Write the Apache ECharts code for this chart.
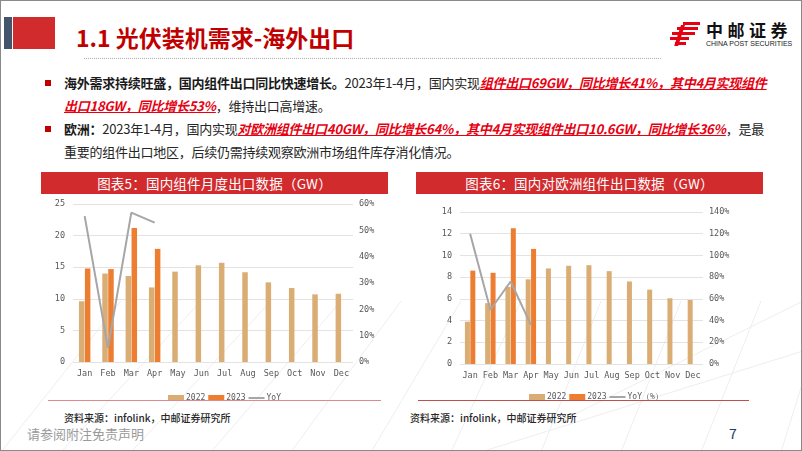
<!DOCTYPE html>
<html><head><meta charset="utf-8">
<script src="https://cdn.jsdelivr.net/npm/echarts@6/dist/echarts.min.js"></script>
<style>
html,body{margin:0;padding:0;background:#fff;}
#slide{position:relative;width:802px;height:451px;overflow:hidden;background:#fff;box-sizing:border-box;border:1px solid #8a8a8a;font-family:"Noto Sans CJK SC","Noto Sans",sans-serif;}
.abs{position:absolute;}
.line{position:absolute;left:63px;white-space:nowrap;font-size:13px;letter-spacing:-0.25px;line-height:18px;color:#262626;}
.line b{font-weight:700;color:#1a1a1a;}
.hl{color:#E60012;font-weight:700;font-style:italic;text-decoration:underline;text-decoration-color:#E60012;}
.bullet{position:absolute;left:44px;width:6px;height:6px;background:#C00000;}
.tbar{position:absolute;height:22px;background:#D12B2E;color:#fff;font-size:13.5px;line-height:22px;text-align:center;letter-spacing:0.2px;}
.src{position:absolute;font-size:10px;color:#262626;font-weight:500;white-space:nowrap;}
</style></head>
<body><div id="slide">
<svg class="abs" style="left:0;top:0" width="802" height="451">
  <g stroke="#eeeeee" stroke-width="1" fill="none">
    <line x1="0" y1="451" x2="120" y2="300"/>
    <line x1="60" y1="451" x2="200" y2="300"/>
    <line x1="130" y1="451" x2="270" y2="300"/>
    <line x1="210" y1="451" x2="340" y2="300"/>
    <line x1="290" y1="451" x2="400" y2="300"/>
    <line x1="370" y1="451" x2="460" y2="300"/>
    <line x1="450" y1="451" x2="520" y2="300"/>
    <line x1="540" y1="451" x2="600" y2="300"/>
    <line x1="620" y1="451" x2="680" y2="300"/>
    <line x1="700" y1="451" x2="760" y2="300"/>
    <line x1="780" y1="451" x2="802" y2="380"/>
    <line x1="560" y1="420" x2="802" y2="300"/>
    <line x1="480" y1="451" x2="802" y2="350"/>
  </g>
</svg>
<div class="abs" style="left:3px;top:16px;width:8px;height:32px;background:#44546A;"></div>
<div class="abs" style="left:12px;top:16px;width:42px;height:32px;background:#D12B2E;"></div>
<div class="abs" style="left:75px;top:21px;font-size:23px;font-weight:700;color:#C00000;white-space:nowrap;line-height:30px;">1.1 光伏装机需求-海外出口</div>
<div class="abs" style="left:83px;top:57px;width:577px;height:0;border-top:1px dotted #b0b0b0;"></div>
<svg class="abs" style="left:669px;top:21px" width="32" height="24">
  <g fill="#E60012">
    <rect x="13" y="0" width="17" height="3"/>
    <rect x="7" y="5" width="21" height="3"/>
    <rect x="2" y="10" width="23" height="3"/>
    <rect x="0" y="15" width="19" height="3"/>
    <rect x="12" y="3" width="4" height="21" transform="skewX(-18)"/>
    <rect x="5" y="20" width="11" height="3"/>
  </g>
</svg>
<div class="abs" style="left:705px;top:19px;font-size:17px;font-weight:700;color:#111;letter-spacing:4.5px;line-height:20px;white-space:nowrap;">中邮证券</div>
<div class="abs" style="left:705px;top:38px;font-size:7px;color:#222;line-height:9px;white-space:nowrap;font-family:'Liberation Sans',sans-serif;">CHINA POST SECURITIES</div>

<div class="bullet" style="top:79px"></div>
<div class="line" style="top:73px"><b>海外需求持续旺盛，国内组件出口同比快速增长。</b>2023年1-4月，国内实现<span class="hl">组件出口69GW，同比增长41%，其中4月实现组件</span></div>
<div class="line" style="top:96px"><span class="hl">出口18GW，同比增长53%</span>，维持出口高增速。</div>
<div class="bullet" style="top:125px"></div>
<div class="line" style="top:119px"><b>欧洲：</b>2023年1-4月，国内实现<span class="hl">对欧洲组件出口40GW，同比增长64%，其中4月实现组件出口10.6GW，同比增长36%</span>，是最</div>
<div class="line" style="top:142px">重要的组件出口地区，后续仍需持续观察欧洲市场组件库存消化情况。</div>

<div class="tbar" style="left:40px;top:171px;width:347px;">图表5：国内组件月度出口数据（GW）</div>
<div class="tbar" style="left:415px;top:171px;width:347px;">图表6：国内对欧洲组件出口数据（GW）</div>

<div id="c1" class="abs" style="left:40px;top:195px;width:347px;height:210px;"></div>
<div id="c2" class="abs" style="left:415px;top:195px;width:347px;height:210px;"></div>
<div class="abs" style="left:47px;top:399px;width:333px;height:1px;background:#DC8A8C;"></div>
<div class="abs" style="left:417px;top:399px;width:331px;height:1px;background:#C0504D;"></div>

<div class="src" style="left:63px;top:409px;">资料来源：infolink，中邮证券研究所</div>
<div class="src" style="left:409px;top:409px;">资料来源：infolink，中邮证券研究所</div>
<div class="abs" style="left:26px;top:424px;font-size:13px;color:#9a9a9a;white-space:nowrap;line-height:18px;">请参阅附注免责声明</div>
<div class="abs" style="left:728px;top:423px;font-size:14px;color:#1F3864;line-height:18px;">7</div>
</div>
<script>
const months = ['Jan','Feb','Mar','Apr','May','Jun','Jul','Aug','Sep','Oct','Nov','Dec'];
// 图表5 国内组件月度出口 (GW)
const export2022 = [9.6, 14.0, 13.6, 11.8, 14.3, 15.3, 15.7, 14.2, 12.6, 11.7, 10.7, 10.8];
const export2023 = [14.8, 14.7, 21.2, 17.9];
const exportYoY = [55.4, 5.4, 56.7, 52.9]; // %
// 图表6 国内对欧洲组件出口 (GW)
const europe2022 = [3.9, 5.6, 7.1, 7.8, 8.8, 9.05, 9.1, 8.55, 7.6, 6.85, 6.05, 5.9];
const europe2023 = [8.6, 8.4, 12.5, 10.6];
const europeYoY = [120, 50, 76, 36]; // %

const C22 = '#D9AD73', C23 = '#ED7D31', CY = '#A6A6A6';
const axisFont = {fontSize: 8.5, color: '#595959', fontFamily: 'DejaVu Sans Mono'};
const lineIcon = 'path://M0,0H16V2H0Z';

function makeOption(cfg) {
  return {
    animation: false,
    grid: cfg.grid,
    legend: {
      left: cfg.legendLeft, top: cfg.legendTop, itemWidth: 16, itemHeight: 6, itemGap: 3,
      textStyle: {fontSize: 8, color: '#595959', fontFamily: 'DejaVu Sans Mono', padding: [0,0,0,-3]},
      data: [{name: '2022', icon: 'rect'}, {name: '2023', icon: 'rect'}, {name: cfg.yoyName, icon: lineIcon}]
    },
    xAxis: {
      type: 'category', data: months,
      axisLine: {show: false}, axisTick: {show: false},
      axisLabel: Object.assign({margin: 7}, axisFont)
    },
    yAxis: [
      {type: 'value', min: 0, max: cfg.leftMax, interval: cfg.leftInt,
       axisLine: {show: false}, axisTick: {show: false},
       axisLabel: Object.assign({margin: 8}, axisFont),
       splitLine: {lineStyle: {color: '#E3E3E3', width: 1}}},
      {type: 'value', min: 0, max: cfg.rightMax, interval: cfg.rightInt,
       axisLine: {show: false}, axisTick: {show: false},
       axisLabel: Object.assign({margin: 6, formatter: '{value}%'}, axisFont),
       splitLine: {show: false}}
    ],
    series: [
      {name: '2022', type: 'bar', data: cfg.a, barWidth: cfg.bw, barGap: '8%', itemStyle: {color: C22}},
      {name: '2023', type: 'bar', data: cfg.b, barWidth: cfg.bw, itemStyle: {color: C23}},
      {name: cfg.yoyName, type: 'line', yAxisIndex: 1, data: cfg.y, symbol: 'none',
       lineStyle: {color: CY, width: 2}, itemStyle: {color: CY}}
    ]
  };
}

echarts.init(document.getElementById('c1')).setOption(makeOption({
  grid: {left: 32, right: 35, top: 8, bottom: 44},
  legendLeft: 122, legendTop: 193,
  leftMax: 25, leftInt: 5, rightMax: 60, rightInt: 10,
  a: export2022, b: export2023, y: exportYoY, yoyName: 'YoY', bw: 5.5
}));
echarts.init(document.getElementById('c2')).setOption(makeOption({
  grid: {left: 44, right: 60, top: 16, bottom: 42},
  legendLeft: 108, legendTop: 192,
  leftMax: 14, leftInt: 2, rightMax: 140, rightInt: 20,
  a: europe2022, b: europe2023, y: europeYoY, yoyName: 'YoY（%）', bw: 5
}));
</script>
</body></html>
